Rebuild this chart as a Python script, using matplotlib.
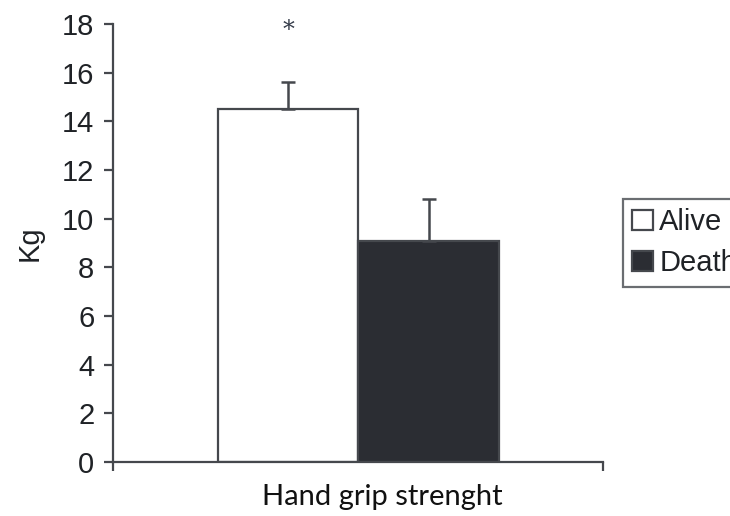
import matplotlib
matplotlib.use("Agg")
import matplotlib.pyplot as plt
from matplotlib.patches import Patch

# Hand grip strength by outcome group
groups = ["Alive", "Death"]
means = [14.5, 9.1]
upper_err = [1.1, 1.7]
bar_colors = ["#ffffff", "#2b2d33"]
y_ticks = [0, 2, 4, 6, 8, 10, 12, 14, 16, 18]
x_label = "Hand grip strenght"
y_label = "Kg"
significance = "*"

line_col = "#45484d"
text_col = "#1f2226"

W, H = 730, 516
fig = plt.figure(figsize=(W / 100, H / 100), dpi=100)
ax = fig.add_axes([113 / W, 1 - 462 / H, (603 - 113) / W, (462 - 24) / H])

xs = list(range(len(groups)))
ax.bar(xs, means, width=1.0, color=bar_colors, edgecolor=line_col,
       linewidth=1.6, zorder=2)
ax.errorbar(xs, means, yerr=[[0] * len(means), upper_err], fmt="none",
            ecolor=line_col, elinewidth=1.8, capsize=4.7, capthick=1.8, zorder=3)
ax.text(xs[0], means[0] + upper_err[0] + 2.12, significance, ha="center",
        va="center", fontsize=17, family="DejaVu Serif", color="#333a48")

ax.set_xlim(-1.246, 2.242)
ax.set_ylim(0, 18)
ax.set_yticks(y_ticks)
ax.set_yticklabels([str(t) for t in y_ticks], fontsize=21,
                   family="Liberation Sans", color=text_col)
ax.set_xticks([-1.246, 2.242])
ax.set_xticklabels(["", ""])
ax.tick_params(axis="both", direction="out", length=6.5, width=1.6,
               color=line_col, pad=7)
for side in ("top", "right"):
    ax.spines[side].set_visible(False)
for side in ("left", "bottom"):
    ax.spines[side].set_color(line_col)
    ax.spines[side].set_linewidth(1.6)

ax.set_ylabel(y_label, fontsize=21, family="Liberation Sans",
              color=text_col, labelpad=13)
fig.text(382 / W, 1 - 497 / H, x_label, ha="center", va="center",
         fontsize=21, family="Lato", color="#111111")

handles = [Patch(facecolor=c, edgecolor=line_col, linewidth=1.6) for c in bar_colors]
leg = fig.legend(handles, groups, loc="upper left",
                 bbox_to_anchor=(623 / W, 1 - 199 / H),
                 bbox_transform=fig.transFigure,
                 prop={"family": "Liberation Sans", "size": 21},
                 frameon=True, fancybox=False, shadow=False,
                 handlelength=0.7, handleheight=0.7, handletextpad=0.22,
                 borderpad=0.32, labelspacing=0.45, borderaxespad=0)
leg.get_frame().set_edgecolor(line_col)
leg.get_frame().set_linewidth(1.6)
for t in leg.get_texts():
    t.set_color(text_col)

fig.savefig("out.png", dpi=100)
